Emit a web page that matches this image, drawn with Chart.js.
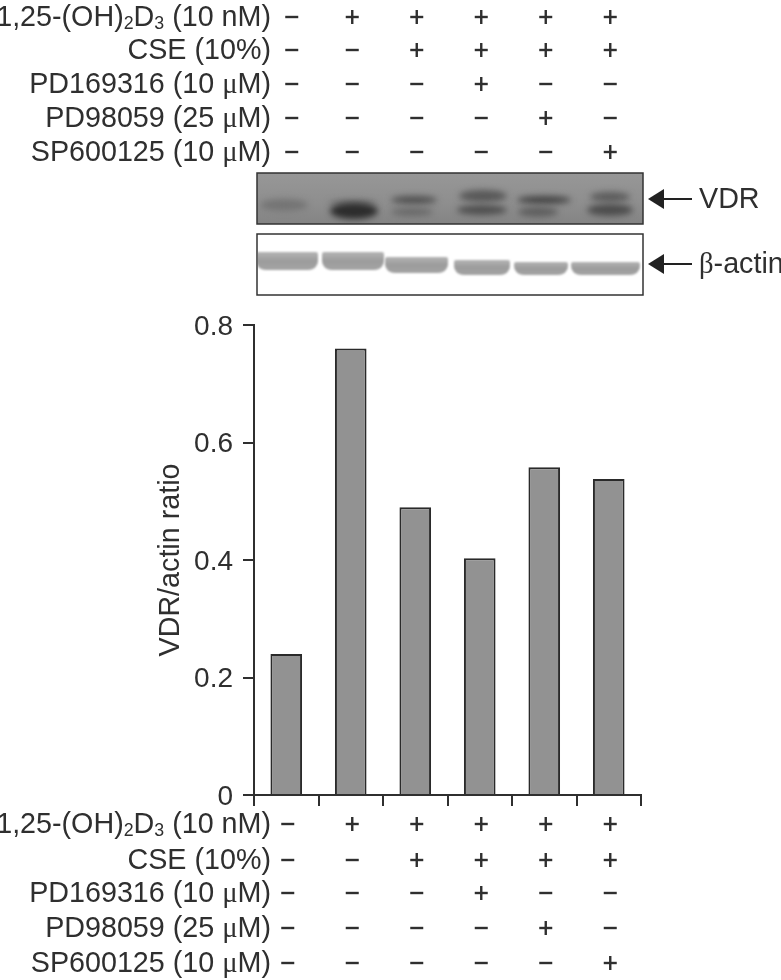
<!DOCTYPE html>
<html>
<head>
<meta charset="utf-8">
<title>VDR/actin ratio</title>
<script src="https://cdn.jsdelivr.net/npm/chart.js@4"></script>
<style>
html, body { margin: 0; padding: 0; background: #fff; }
canvas { display: block; }
</style>
</head>
<body>
<canvas id="ratioChart" width="781" height="980"></canvas>
<script>
const lanes = ['1', '2', '3', '4', '5', '6'];
const ratios = [0.24, 0.76, 0.49, 0.403, 0.558, 0.538];
const yTicks = [0, 0.2, 0.4, 0.6, 0.8];
const axisTitle = 'VDR/actin ratio';

const treatments = ['1,25-(OH)₂D₃ (10 nM)', 'CSE (10%)', 'PD169316 (10 μM)', 'PD98059 (25 μM)', 'SP600125 (10 μM)'];
const vitaminD = ['–', '+', '+', '+', '+', '+'];
const cse = ['–', '–', '+', '+', '+', '+'];
const pd169316 = ['–', '–', '–', '+', '–', '–'];
const pd98059 = ['–', '–', '–', '–', '+', '–'];
const sp600125 = ['–', '–', '–', '–', '–', '+'];
const treatmentRows = [vitaminD, cse, pd169316, pd98059, sp600125];

const INK = '#2f2f2f';
const TEXT_FONT = '"Liberation Sans", Arial, sans-serif';
const GREEK_FONT = '"Liberation Serif", serif';
const LABEL_SIZE = 28.7;
const TOP_ROWS_Y = [18, 51, 85, 119, 153];
const BOTTOM_ROWS_Y = [825, 861, 894, 929, 964];

// one label can mix normal text, subscripts and greek letters
function splitLabel(text) {
    const subs = { '₂': '2', '₃': '3' };
    return Array.from(text).map(ch => {
        if (subs[ch]) return { text: subs[ch], font: `${LABEL_SIZE * 0.62}px ${TEXT_FONT}`, dy: 6 };
        if (ch === 'μ' || ch === 'β') return { text: ch, font: `${LABEL_SIZE}px ${GREEK_FONT}`, dy: 0 };
        return { text: ch, font: `${LABEL_SIZE}px ${TEXT_FONT}`, dy: 0 };
    });
}

function labelWidth(ctx, parts) {
    return parts.reduce((sum, p) => { ctx.font = p.font; return sum + ctx.measureText(p.text).width; }, 0);
}

function drawLabel(ctx, text, x, y, alignRight) {
    const parts = splitLabel(text);
    let px = alignRight ? x - labelWidth(ctx, parts) : x;
    ctx.textAlign = 'left';
    ctx.textBaseline = 'middle';
    parts.forEach(p => {
        ctx.font = p.font;
        ctx.fillText(p.text, px, y + p.dy);
        px += ctx.measureText(p.text).width;
    });
}

function drawMark(ctx, mark, x, y) {
    ctx.fillStyle = INK;
    ctx.fillRect(x - 6.5, y - 1.2, 13, 2.4);
    if (mark === '+') ctx.fillRect(x - 1.2, y - 7, 2.4, 14);
}

function drawTreatmentTable(ctx, xScale, rowsY, firstShift) {
    treatments.forEach((name, r) => {
        ctx.fillStyle = INK;
        drawLabel(ctx, name, 271, rowsY[r], true);
        treatmentRows[r].forEach((mark, i) => {
            const x = xScale.getPixelForValue(i) + (i === 0 ? firstShift : 1.5);
            drawMark(ctx, mark, x, rowsY[r] - 1);
        });
    });
}

function softBand(ctx, cx, cy, rx, ry, color) {
    ctx.fillStyle = color;
    ctx.beginPath();
    ctx.ellipse(cx, cy, rx, ry, 0, 0, Math.PI * 2);
    ctx.fill();
}

function actinBand(ctx, x0, x1, top, bottom) {
    const g = ctx.createLinearGradient(0, top, 0, bottom);
    g.addColorStop(0, '#b4b4b4');
    g.addColorStop(0.5, '#9c9c9c');
    g.addColorStop(1, '#a4a4a4');
    ctx.fillStyle = g;
    ctx.beginPath();
    ctx.roundRect(x0, top, x1 - x0, bottom - top, [2, 2, 9, 9]);
    ctx.fill();
}

function drawArrow(ctx, y, label) {
    ctx.fillStyle = '#222';
    ctx.beginPath();
    ctx.moveTo(648, y);
    ctx.lineTo(664, y - 10);
    ctx.lineTo(664, y + 10);
    ctx.closePath();
    ctx.fill();
    ctx.fillRect(662, y - 1, 30, 2);
    ctx.fillStyle = INK;
    drawLabel(ctx, label, 699, y + 1, false);
}

function drawVdrBlot(ctx) {
    const g = ctx.createLinearGradient(0, 173, 0, 224);
    g.addColorStop(0, '#979797');
    g.addColorStop(0.6, '#8e8e8e');
    g.addColorStop(1, '#848484');
    ctx.save();
    ctx.beginPath();
    ctx.rect(257, 173, 386, 51);
    ctx.clip();
    ctx.fillStyle = g;
    ctx.fillRect(257, 173, 386, 51);
    ctx.filter = 'blur(3px)';
    softBand(ctx, 284, 205, 24, 6, '#747474');
    softBand(ctx, 353, 203, 24, 3, '#6c6c6c');
    softBand(ctx, 354, 211, 24, 8, '#2c2c2c');
    softBand(ctx, 414, 200, 23, 4, '#505050');
    softBand(ctx, 412, 212, 21, 4, '#686868');
    softBand(ctx, 483, 196, 24, 6, '#585858');
    softBand(ctx, 482, 210, 25, 5, '#4e4e4e');
    softBand(ctx, 544, 200, 27, 4, '#444444');
    softBand(ctx, 538, 212, 20, 5, '#5e5e5e');
    softBand(ctx, 610, 197, 20, 5, '#5c5c5c');
    softBand(ctx, 610, 210, 23, 6, '#4c4c4c');
    ctx.restore();
    ctx.strokeStyle = '#333';
    ctx.lineWidth = 1.5;
    ctx.strokeRect(257, 173, 386, 51);
}

function drawActinBlot(ctx) {
    ctx.fillStyle = '#ffffff';
    ctx.fillRect(257, 234, 386, 61);
    ctx.save();
    ctx.beginPath();
    ctx.rect(258, 235, 384, 59);
    ctx.clip();
    ctx.filter = 'blur(1.2px)';
    actinBand(ctx, 256, 318, 252, 270);
    actinBand(ctx, 322, 384, 252, 270);
    actinBand(ctx, 385, 448, 257, 273);
    actinBand(ctx, 454, 510, 260, 275);
    actinBand(ctx, 514, 568, 262, 275);
    actinBand(ctx, 571, 640, 262, 275);
    ctx.restore();
    ctx.strokeStyle = '#333';
    ctx.lineWidth = 1.5;
    ctx.strokeRect(257, 234, 386, 61);
}

const figureExtras = {
    id: 'figureExtras',
    afterDraw(chart) {
        const ctx = chart.ctx;
        ctx.save();
        drawVdrBlot(ctx);
        drawActinBlot(ctx);
        drawArrow(ctx, 199, 'VDR');
        drawArrow(ctx, 264, 'β-actin');
        drawTreatmentTable(ctx, chart.scales.x, TOP_ROWS_Y, 5.5);
        drawTreatmentTable(ctx, chart.scales.x, BOTTOM_ROWS_Y, 1.5);
        ctx.restore();
    }
};

new Chart(document.getElementById('ratioChart'), {
    type: 'bar',
    data: {
        labels: lanes,
        datasets: [{
            data: ratios,
            backgroundColor: '#929292',
            borderColor: '#2a2a2a',
            borderWidth: 2,
            barPercentage: 0.49,
            categoryPercentage: 1
        }]
    },
    options: {
        responsive: false,
        animation: false,
        devicePixelRatio: 1,
        layout: { padding: { top: 325, right: 140, left: 0, bottom: 0 } },
        plugins: { legend: { display: false }, tooltip: { enabled: false } },
        scales: {
            x: {
                offset: true,
                afterFit: scale => { scale.height = 185; },
                border: { color: INK, width: 2 },
                grid: { offset: true, drawOnChartArea: false, color: INK, lineWidth: 2, tickLength: 11 },
                ticks: { display: false }
            },
            y: {
                min: 0,
                max: 0.8,
                afterFit: scale => { scale.width = 254; },
                afterBuildTicks: scale => { scale.ticks = yTicks.map(value => ({ value })); },
                border: { color: INK, width: 2 },
                grid: { drawOnChartArea: false, color: INK, lineWidth: 2, tickLength: 11 },
                ticks: {
                    color: INK,
                    padding: 10,
                    labelOffset: 2,
                    font: { family: TEXT_FONT, size: 28 },
                    callback: value => (value === 0 ? '0' : value.toFixed(1))
                },
                title: {
                    display: true,
                    text: axisTitle,
                    color: INK,
                    font: { family: TEXT_FONT, size: 28.7 },
                    padding: { top: 154, bottom: 0 }
                }
            }
        }
    },
    plugins: [figureExtras]
});
</script>
</body>
</html>
